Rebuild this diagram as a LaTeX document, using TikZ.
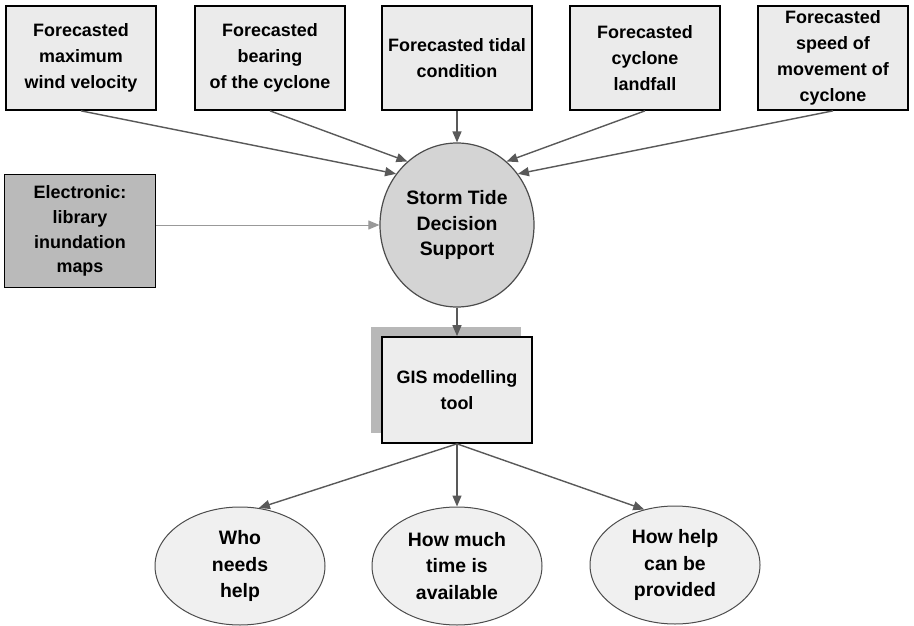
\documentclass[tikz,border=0pt]{standalone}
\usepackage{fontspec}
\setmainfont{Liberation Sans}
\usetikzlibrary{shapes.geometric,arrows.meta,shadows}

\begin{document}
\begin{tikzpicture}[x=1bp,y=1bp,
    topbox/.style={draw=black,line width=1.7bp,fill=black!8,minimum width=150bp,minimum height=104bp,inner sep=0pt,align=center,font=\bfseries\fontsize{18}{26}\selectfont},
    bubble/.style={ellipse,draw=black!70,line width=1bp,fill=black!6,minimum width=170bp,minimum height=118bp,inner sep=0pt,align=center,font=\bfseries\fontsize{19.5}{27}\selectfont},
    feed/.style={draw=black!65,line width=1.4bp,-{Triangle[length=11bp,width=9bp]}}]

    \useasboundingbox (0,0) rectangle (914,-626);

    \node[topbox] (wind) at (81,-58) {Forecasted\\maximum\\wind velocity};
    \node[topbox] (bearing) at (270,-58) {Forecasted\\bearing\\of the cyclone};
    \node[topbox] (tidal) at (457,-58) {Forecasted tidal\\condition};
    \node[topbox] (landfall) at (645,-58) {Forecasted\\cyclone\\landfall};
    \node[topbox] (speed) at (833,-58) {Forecasted\\speed of\\movement of\\cyclone};

    \node[ellipse,draw=black!70,line width=1.2bp,fill=black!17,minimum width=154bp,minimum height=164bp,inner sep=0pt,align=center,font=\bfseries\fontsize{19.5}{26}\selectfont] (storm) at (457,-225) {Storm Tide\\Decision\\Support};

    \node[draw=black,line width=1.7bp,fill=black!27,minimum width=151bp,minimum height=113bp,inner sep=0pt,align=center,font=\bfseries\fontsize{18}{25}\selectfont] (library) at (80,-231) {\raisebox{-5bp}{\parbox{140bp}{\centering Electronic:\\library\\inundation\\maps}}};

    \node[draw=black,line width=1.7bp,fill=black!7,minimum width=150bp,minimum height=106bp,inner sep=0pt,align=center,font=\bfseries\fontsize{18}{26}\selectfont,
        general shadow={fill=black!28,shadow xshift=-11bp,shadow yshift=10bp}] (gis) at (457,-390) {GIS modelling\\tool};

    \node[bubble] (who) at (240,-566) {Who\\needs\\help};
    \node[bubble] (time) at (457,-566) {How much\\time is\\available};
    \node[bubble] (how) at (675,-565) {How help\\can be\\provided};

    \draw[feed] (wind.south) -- (storm.140);
    \draw[feed] (bearing.south) -- (storm.128);
    \draw[feed] (tidal.south) -- (storm.north);
    \draw[feed] (landfall.south) -- (storm.52);
    \draw[feed] (speed.south) -- (storm.40);
    \draw[feed,draw=black!40,line width=0.9bp] (library.east |- storm.west) -- (storm.west);
    \draw[feed] (storm.south) -- (gis.north);
    \draw[feed] (gis.south) -- (who.72);
    \draw[feed] (gis.south) -- (time.north);
    \draw[feed] (gis.south) -- (how.119);
\end{tikzpicture}
\end{document}
